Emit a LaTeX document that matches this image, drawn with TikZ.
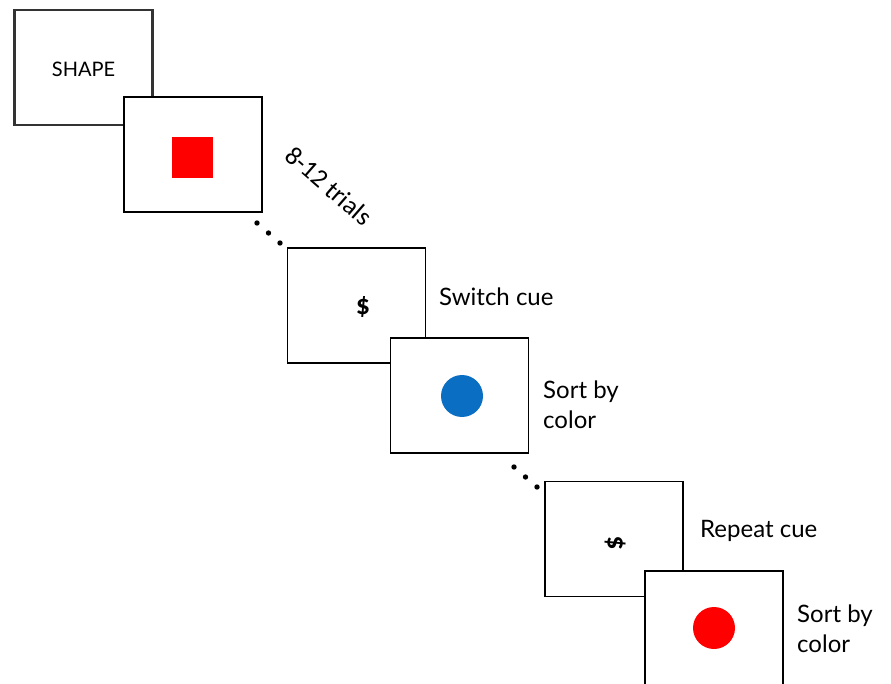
\documentclass[tikz,border=0pt]{standalone}
\usepackage{fontspec}
\setmainfont{Lato}
\newfontfamily\cueface{Carlito}
\definecolor{cueblue}{HTML}{0A6FC2}
\definecolor{framegrey}{HTML}{333333}
\begin{document}
\begin{tikzpicture}[x=1pt,y=-1pt,
  screen/.style={draw=black, fill=white, line width=1.8pt, rectangle,
    minimum width=138pt, minimum height=115pt, inner sep=0pt},
  firstscreen/.style={screen, draw=framegrey, line width=2.4pt},
  label/.style={anchor=base west, inner sep=0pt, font=\fontsize{24}{30}\selectfont, align=left},
  symbol/.style={font=\cueface\bfseries\fontsize{28}{30}\selectfont, inner sep=0pt},
  trialdot/.style={fill=black}]
\useasboundingbox (0,0) rectangle (891,684);
\clip (0,0) rectangle (891,684);

% first block: task cue and a shape trial
\node[firstscreen] (cue1) at (83.5,67.5) {};
\node[font=\fontsize{20}{24}\selectfont] (cue1text) at (83.5,69) {SHAPE};
\node[screen] (trial1) at (193,154.5) {};
\fill[red] (172,137) rectangle (213,178);

% run length
\node[rotate=-41, font=\cueface\fontsize{26}{30}\selectfont, inner sep=0pt] (runlen) at (329,186) {8-12 trials};
\foreach \p in {(257,223),(268.5,233),(280,243)} \fill[trialdot] \p circle (2.7);

% switch cue and colour trial
\node[screen] (cue2) at (356.5,305.5) {};
\node[symbol] (cue2text) at (363,307) {\$};
\node[label] (cue2lab) at (439,306) {Switch cue};
\node[screen] (trial2) at (459.5,395.5) {};
\fill[cueblue] (462,396) circle (21);
\node[label] (trial2lab) at (543,428) {Sort by\\color};

\foreach \p in {(514,467),(525.5,477),(537,487)} \fill[trialdot] \p circle (2.7);

% repeat cue and colour trial
\node[screen] (cue3) at (614,539) {};
\node[symbol, rotate=90] (cue3text) at (615,543) {\$};
\node[label] (cue3lab) at (700,537) {Repeat cue};
\node[screen] (trial3) at (714,628.5) {};
\fill[red] (714,628) circle (21);
\node[label] (trial3lab) at (797,652) {Sort by\\color};
\end{tikzpicture}
\end{document}
